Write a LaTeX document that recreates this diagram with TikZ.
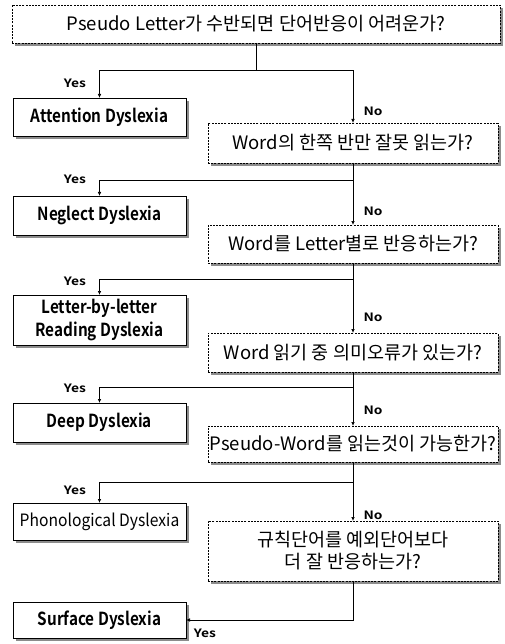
\documentclass[tikz,border=0pt]{standalone}
\usepackage{fontspec}
\setmainfont{Noto Sans CJK KR}[BoldFont={Noto Sans CJK KR Bold}]
\newfontfamily\boxbf{Noto Sans CJK KR Bold}[FakeStretch=0.85]
\newfontfamily\boxrg{Noto Sans CJK KR}[FakeStretch=0.92]
\newfontfamily\lblbf{Noto Sans CJK KR Bold}[FakeStretch=1.2]
\usetikzlibrary{arrows.meta,backgrounds}
\begin{document}
\begin{tikzpicture}[x=1pt,y=-1pt,
  qbox/.style={draw,line width=0.6pt,dash pattern=on 2pt off 1.2pt,fill=white,anchor=north west,
    inner sep=0pt,outer sep=0pt,align=center,font=\fontsize{18.5}{22}\selectfont},
  dbox/.style={draw,line width=0.7pt,fill=white,anchor=north west,
    inner sep=0pt,outer sep=0pt,align=center,font=\fontsize{18}{23}\boxbf},
  lbl/.style={font=\fontsize{11.5}{13}\lblbf,inner sep=0pt},
  arr/.style={line width=0.7pt,-{Latex[length=4pt,width=3.5pt]}},
  ln/.style={line width=0.7pt},
  shadowfill/.style={fill=black!45}]
\useasboundingbox (0,0) rectangle (505,644);

\node[qbox,minimum width=488pt,minimum height=38pt] (q0) at (12,5) {Pseudo Letter가 수반되면 단어반응이 어려운가?};
\node[dbox,minimum width=173pt,minimum height=38pt] (att) at (13,98) {Attention Dyslexia};
\node[qbox,minimum width=290pt,minimum height=40pt] (q1) at (208,123) {Word의 한쪽 반만 잘못 읽는가?};
\node[dbox,minimum width=173pt,minimum height=39pt] (neg) at (13,196) {Neglect Dyslexia};
\node[qbox,minimum width=290pt,minimum height=38pt] (q2) at (208,225) {Word를 Letter별로 반응하는가?};
\node[dbox,minimum width=173pt,minimum height=50pt] (lbl) at (13,295) {Letter-by-letter\\Reading Dyslexia};
\node[qbox,minimum width=290pt,minimum height=39pt] (q3) at (208,333) {Word 읽기 중 의미오류가 있는가?};
\node[dbox,minimum width=173pt,minimum height=39pt] (deep) at (13,403) {Deep Dyslexia};
\node[qbox,minimum width=290pt,minimum height=36pt] (q4) at (208,426) {Pseudo-Word를 읽는것이 가능한가?};
\node[dbox,minimum width=173pt,minimum height=37pt,font=\fontsize{17}{19}\boxrg] (pho) at (13,503) {Phonological Dyslexia};
\node[qbox,minimum width=290pt,minimum height=60pt] (q5) at (208,521) {규칙단어를 예외단어보다\\더 잘 반응하는가?};
\node[dbox,minimum width=173pt,minimum height=36pt] (sur) at (13,602) {Surface Dyslexia};

\begin{scope}[on background layer]
\foreach \n in {q0,att,q1,neg,q2,lbl,q3,deep,q4,pho,q5,sur}{
  \fill[shadowfill] ([shift={(3,3)}]\n.north west) rectangle ([shift={(3,3)}]\n.south east);
}
\end{scope}

\coordinate (j1) at (0,70);
\coordinate (j2) at (0,180);
\coordinate (j3) at (0,279);
\coordinate (j4) at (0,387);
\coordinate (j5) at (0,482);

\draw[ln] (q0.south) -- (q0.south |- j1);
\draw[arr] (q0.south |- j1) -| (att.north);
\draw[arr] (q0.south |- j1) -| (q1.north);

\draw[arr] (q1.south) -- (q1.south |- j2) -| (neg.north);
\draw[arr] (q1.south) -- (q2.north);

\draw[arr] (q2.south) -- (q2.south |- j3) -| (lbl.north);
\draw[arr] (q2.south) -- (q3.north);

\draw[arr] (q3.south) -- (q3.south |- j4) -| (deep.north);
\draw[arr] (q3.south) -- (q4.north);

\draw[arr] (q4.south) -- (q4.south |- j5) -| (pho.north);
\draw[arr] (q4.south) -- (q5.north);

\draw[arr] (q5.south) |- (sur.east);

\node[lbl] (y1) at (75,83) {Yes};
\node[lbl] (y2) at (75,179) {Yes};
\node[lbl] (y3) at (75,281) {Yes};
\node[lbl] (y4) at (75,388) {Yes};
\node[lbl] (y5) at (75,490) {Yes};
\node[lbl] (y6) at (205,633) {Yes};
\node[lbl] (n1) at (373,111) {No};
\node[lbl] (n2) at (373,211) {No};
\node[lbl] (n3) at (373,317) {No};
\node[lbl] (n4) at (373,410) {No};
\node[lbl] (n5) at (373,515) {No};
\end{tikzpicture}
\end{document}
